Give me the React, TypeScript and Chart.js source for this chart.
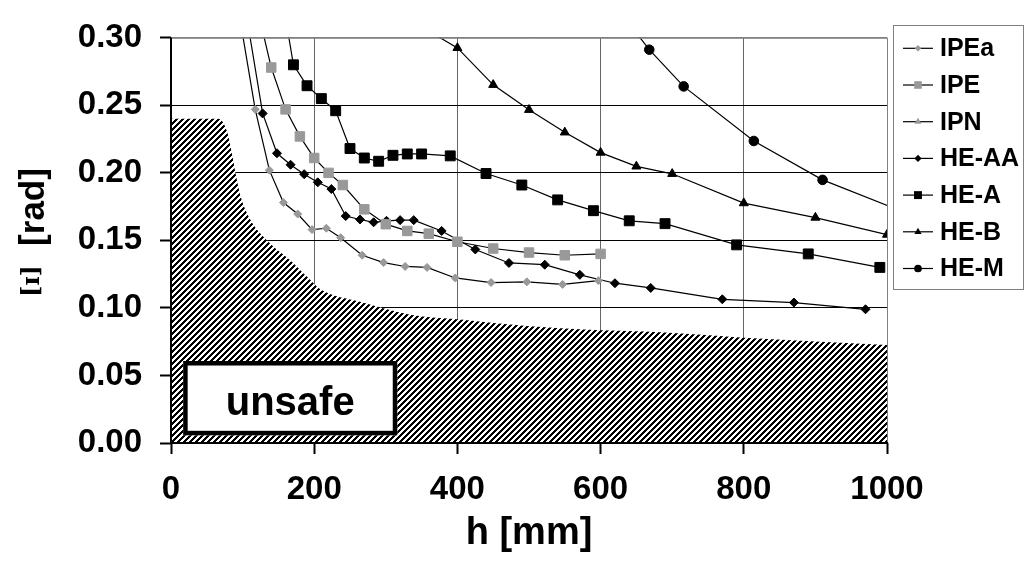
import React, { useEffect, useRef } from 'react';
import { Chart, registerables } from 'chart.js';

Chart.register(...registerables);

const FONT = "'Liberation Sans', Arial, Helvetica, sans-serif";

// ---- axis ticks ----
const X_TICKS = [0, 200, 400, 600, 800, 1000];
const Y_TICKS = [0, 0.05, 0.1, 0.15, 0.2, 0.25, 0.3];
const Y_TICK_LABELS = ['0.00', '0.05', '0.10', '0.15', '0.20', '0.25', '0.30'];

// ---- series (h [mm], rotation [rad]) ----
const IPEA_H = [97.6, 117.6, 137.4, 157, 177, 197, 217, 237, 267, 297, 327, 357.6, 397, 447, 497, 547, 597];
const IPEA_PHI = [0.31, 0.247, 0.202, 0.178, 0.1695, 0.158, 0.159, 0.152, 0.139, 0.1336, 0.1307, 0.13, 0.1222, 0.1188, 0.1193, 0.1174, 0.1202];

const IPE_H = [120, 140, 160, 180, 200, 220, 240, 270, 300, 330, 360, 400, 450, 500, 550, 600];
const IPE_PHI = [0.323, 0.278, 0.247, 0.227, 0.211, 0.2, 0.191, 0.173, 0.162, 0.157, 0.155, 0.149, 0.144, 0.141, 0.139, 0.14];

const IPN_H: number[] = [];
const IPN_PHI: number[] = [];

const HEAA_H = [109, 128, 148, 167, 186, 205, 224, 244, 264, 283, 301, 320, 339, 378, 425, 472, 522, 571, 620, 670, 770, 870, 970];
const HEAA_PHI = [0.305, 0.244, 0.2145, 0.206, 0.199, 0.193, 0.188, 0.168, 0.1655, 0.1634, 0.1645, 0.165, 0.165, 0.157, 0.1433, 0.1333, 0.132, 0.1245, 0.1183, 0.1148, 0.1064, 0.104, 0.099];

const HEA_H = [152, 171, 190, 210, 230, 250, 270, 290, 310, 330, 350, 390, 440, 490, 540, 590, 640, 690, 790, 890, 990];
const HEA_PHI = [0.34, 0.28, 0.2645, 0.255, 0.246, 0.218, 0.211, 0.2086, 0.213, 0.214, 0.214, 0.2126, 0.1995, 0.191, 0.18, 0.172, 0.1645, 0.1624, 0.1467, 0.14, 0.13];

const HEB_H = [360, 400, 450, 500, 550, 600, 650, 700, 800, 900, 1000];
const HEB_PHI = [0.305, 0.2925, 0.2652, 0.2467, 0.23, 0.215, 0.2048, 0.1993, 0.1776, 0.1669, 0.1543];

const HEM_H = [620, 668, 716, 814, 910, 1008];
const HEM_PHI = [0.324, 0.2912, 0.264, 0.2236, 0.1948, 0.1743];

// ---- unsafe region boundary ----
const UNSAFE_H = [0, 66, 78, 86, 90, 97, 110, 134, 166, 190, 208, 264, 334, 404, 497, 591, 684, 800, 1000];
const UNSAFE_PHI = [0.24, 0.24, 0.231, 0.212, 0.2, 0.183, 0.166, 0.15, 0.1355, 0.123, 0.114, 0.1045, 0.095, 0.0914, 0.0866, 0.0836, 0.082, 0.078, 0.0725];

// "unsafe" label box corners in data units
const BOX_H = [17, 316];
const BOX_PHI = [0.0057, 0.0607];

const GRAY = '#999999';
const BLACK = '#000000';

type Style = 'circle' | 'rect' | 'rectRot' | 'triangle';

function toPoints(h: number[], phi: number[]) {
  return h.map((x, i) => ({ x, y: phi[i] }));
}

function series(label: string, h: number[], phi: number[], color: string, style: Style, radius: number) {
  return {
    label,
    data: toPoints(h, phi),
    borderColor: BLACK,
    borderWidth: 1.2,
    pointStyle: style,
    pointRadius: radius,
    pointBackgroundColor: color,
    pointBorderColor: color,
    pointBorderWidth: 1,
    tension: 0,
    fill: false,
  };
}

function drawMarker(ctx: CanvasRenderingContext2D, style: string, x: number, y: number, r: number) {
  ctx.beginPath();
  if (style === 'circle') ctx.arc(x, y, r, 0, Math.PI * 2);
  else if (style === 'rect') {
    const s = r * Math.SQRT1_2;
    ctx.rect(x - s, y - s, 2 * s, 2 * s);
  } else if (style === 'rectRot') {
    ctx.moveTo(x, y - r); ctx.lineTo(x + r, y); ctx.lineTo(x, y + r); ctx.lineTo(x - r, y); ctx.closePath();
  } else if (style === 'triangle') {
    ctx.moveTo(x, y - r); ctx.lineTo(x + r * 0.866, y + r * 0.5); ctx.lineTo(x - r * 0.866, y + r * 0.5); ctx.closePath();
  }
  ctx.fill();
}

const overlayPlugin = {
  id: 'overlay',
  afterDatasetsDraw(chart: any) {
    const { ctx, chartArea: a, scales } = chart;
    ctx.save();
    // plot frame: gray top/right, black axes left/bottom
    ctx.strokeStyle = '#808080';
    ctx.lineWidth = 1;
    ctx.beginPath();
    ctx.moveTo(a.left, a.top + 0.5);
    ctx.lineTo(a.right + 0.5, a.top + 0.5);
    ctx.lineTo(a.right + 0.5, a.bottom);
    ctx.stroke();
    ctx.strokeStyle = BLACK;
    ctx.lineWidth = 2;
    ctx.beginPath();
    ctx.moveTo(a.left, a.top);
    ctx.lineTo(a.left, a.bottom);
    ctx.lineTo(a.right + 1, a.bottom);
    ctx.stroke();

    // unsafe label box
    const x0 = scales.x.getPixelForValue(BOX_H[0]);
    const x1 = scales.x.getPixelForValue(BOX_H[1]);
    const y0 = scales.y.getPixelForValue(BOX_PHI[1]);
    const y1 = scales.y.getPixelForValue(BOX_PHI[0]);
    const lw = 4.5;
    ctx.fillStyle = '#ffffff';
    ctx.fillRect(x0, y0, x1 - x0, y1 - y0);
    ctx.strokeStyle = BLACK;
    ctx.lineWidth = lw;
    ctx.strokeRect(x0 + lw / 2, y0 + lw / 2, x1 - x0 - lw, y1 - y0 - lw);
    ctx.fillStyle = BLACK;
    ctx.font = `bold 40px ${FONT}`;
    ctx.textAlign = 'center';
    ctx.textBaseline = 'alphabetic';
    ctx.fillText('unsafe', (x0 + x1) / 2, y1 - 20);
    ctx.restore();
  },
  afterDraw(chart: any) {
    const { ctx } = chart;
    ctx.save();
    // y axis title
    ctx.fillStyle = BLACK;
    ctx.textAlign = 'center';
    ctx.textBaseline = 'middle';
    ctx.save();
    ctx.translate(34, 207);
    ctx.rotate(-Math.PI / 2);
    ctx.font = `bold 35px ${FONT}`;
    ctx.fillText('[rad]', 0, 0);
    ctx.restore();
    ctx.save();
    ctx.translate(33, 281);
    ctx.rotate(-Math.PI / 2);
    ctx.font = `bold 24px 'DejaVu Serif', serif`;
    ctx.fillText('[ɪ]', 0, 0);
    ctx.restore();

    // legend
    const lx = 893.5, ly = 25.5, lw = 130, lh = 264;
    ctx.strokeStyle = '#808080';
    ctx.lineWidth = 1;
    ctx.strokeRect(lx, ly, lw, lh);
    const items = chart.data.datasets.filter((d: any) => d.label !== 'unsafe');
    items.forEach((d: any, i: number) => {
      const cy = 48.3 + i * 36.7;
      ctx.strokeStyle = BLACK;
      ctx.lineWidth = 1.2;
      ctx.beginPath();
      ctx.moveTo(903, cy);
      ctx.lineTo(933, cy);
      ctx.stroke();
      ctx.fillStyle = d.pointBackgroundColor;
      drawMarker(ctx, d.pointStyle, 918, cy, d.pointRadius * 0.8);
      ctx.fillStyle = BLACK;
      ctx.font = `bold 25px ${FONT}`;
      ctx.textAlign = 'left';
      ctx.textBaseline = 'middle';
      ctx.fillText(d.label, 940, cy + 1);
    });
    ctx.restore();
  },
};

function makeHatch(): CanvasPattern | string {
  const n = 6;
  const pc = document.createElement('canvas');
  pc.width = n;
  pc.height = n;
  const p = pc.getContext('2d');
  if (!p) return '#888';
  p.fillStyle = '#ffffff';
  p.fillRect(0, 0, n, n);
  p.fillStyle = '#000000';
  for (let i = 0; i < n; i++) {
    for (let j = 0; j < n; j++) {
      if ((i + j) % n < 3) p.fillRect(i, j, 1, 1);
    }
  }
  const pat = p.createPattern(pc, 'repeat');
  return pat || '#888';
}

export default function App() {
  const ref = useRef<HTMLCanvasElement>(null);

  useEffect(() => {
    if (!ref.current) return;
    Chart.defaults.font.family = FONT;
    const hatch = makeHatch();
    const chart = new Chart(ref.current, {
      type: 'line',
      data: {
        datasets: [
          series('IPEa', IPEA_H, IPEA_PHI, GRAY, 'rectRot', 4),
          series('IPE', IPE_H, IPE_PHI, GRAY, 'rect', 6.7),
          series('IPN', IPN_H, IPN_PHI, GRAY, 'triangle', 5),
          series('HE-AA', HEAA_H, HEAA_PHI, BLACK, 'rectRot', 4.5),
          series('HE-A', HEA_H, HEA_PHI, BLACK, 'rect', 7),
          series('HE-B', HEB_H, HEB_PHI, BLACK, 'triangle', 5.2),
          series('HE-M', HEM_H, HEM_PHI, BLACK, 'circle', 4.8),
          {
            label: 'unsafe',
            data: toPoints(UNSAFE_H, UNSAFE_PHI),
            borderWidth: 0,
            borderColor: 'rgba(0,0,0,0)',
            backgroundColor: hatch as any,
            pointRadius: 0,
            fill: 'origin',
            cubicInterpolationMode: 'monotone',
          } as any,
        ],
      },
      options: {
        responsive: false,
        animation: false,
        events: [],
        layout: { padding: { left: 0, top: 23, right: 141, bottom: 0 } },
        plugins: {
          legend: { display: false },
          tooltip: { enabled: false },
        },
        scales: {
          x: {
            type: 'linear',
            min: 0,
            max: 1000,
            afterFit: (s: any) => { s.height = 118; },
            afterBuildTicks: (s: any) => { s.ticks = X_TICKS.map((v) => ({ value: v })); },
            border: { display: false },
            grid: {
              color: (c: any) => (c.tick && c.tick.value === 1000 ? '#808080' : '#666666'),
              lineWidth: 1,
              tickLength: 11,
              tickColor: BLACK,
              tickWidth: 2,
            },
            ticks: {
              color: BLACK,
              font: { size: 33, weight: 'bold' },
              padding: 16,
              maxRotation: 0,
              callback: (v: any) => String(v),
            },
            title: {
              display: true,
              text: 'h [mm]',
              color: BLACK,
              font: { size: 38, weight: 'bold' },
              padding: { top: 0, bottom: 5 },
            },
          },
          y: {
            type: 'linear',
            min: 0,
            max: 0.3,
            afterFit: (s: any) => { s.width = 171; },
            afterBuildTicks: (s: any) => { s.ticks = Y_TICKS.map((v) => ({ value: v })); },
            border: { display: false },
            grid: {
              color: (c: any) => (c.tick && c.tick.value >= 0.3 ? '#808080' : BLACK),
              lineWidth: 1,
              tickLength: 11,
              tickColor: BLACK,
              tickWidth: 2,
            },
            ticks: {
              color: BLACK,
              font: { size: 33, weight: 'bold' },
              padding: 18,
              callback: (_v: any, i: number) => Y_TICK_LABELS[i],
            },
          },
        },
      },
      plugins: [overlayPlugin],
    } as any);
    return () => chart.destroy();
  }, []);

  return (
    <div style={{ position: 'absolute', left: 0, top: 0, width: 1028, height: 561, background: '#fff' }}>
      <canvas ref={ref} width={1028} height={561} style={{ display: 'block' }} />
    </div>
  );
}
